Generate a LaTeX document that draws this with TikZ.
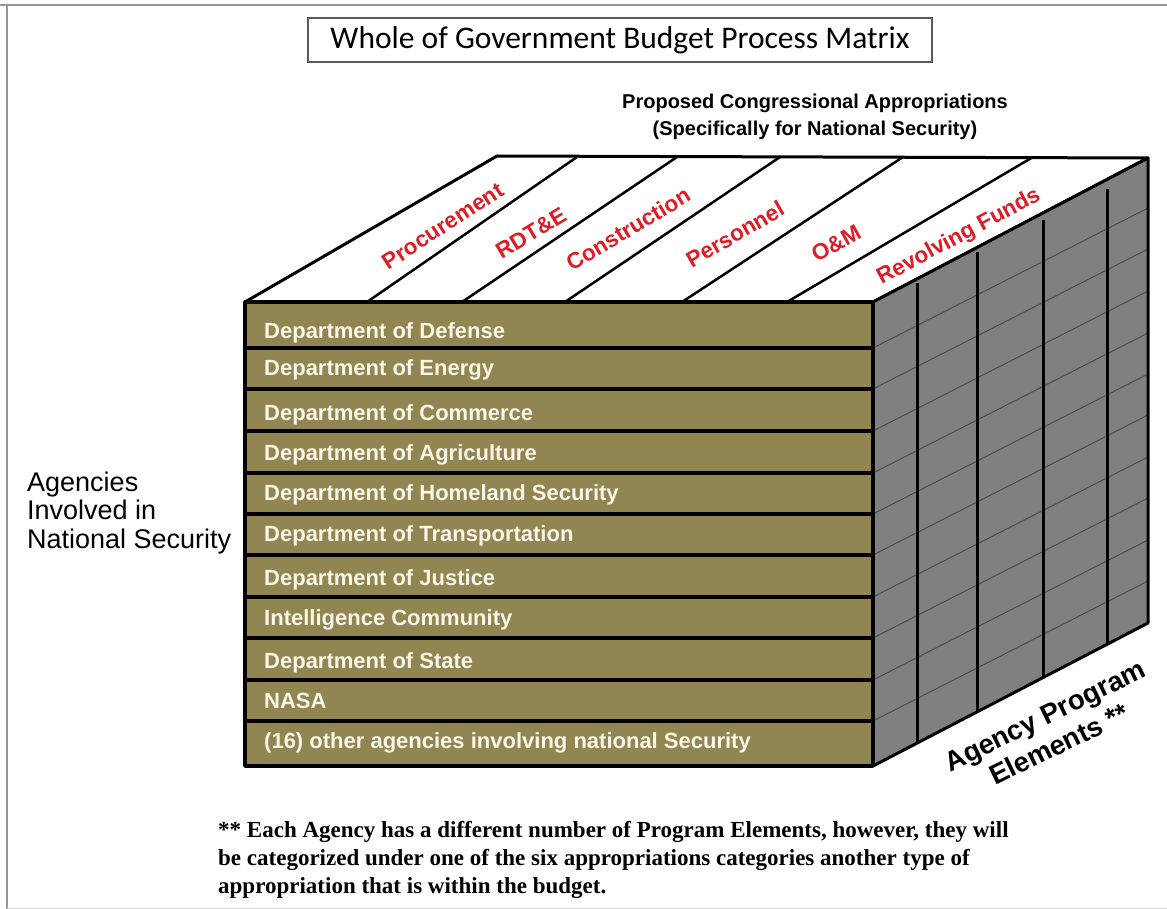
\documentclass[tikz,border=0pt]{standalone}
\usepackage{fontspec}
\setmainfont{Liberation Sans}
\newfontfamily\titlefont{Carlito}
\newfontfamily\notefont{Liberation Serif}
\usetikzlibrary{calc}
\definecolor{olivefront}{RGB}{145,133,82}
\definecolor{sidegray}{RGB}{128,128,128}
\definecolor{labred}{RGB}{222,28,38}
\definecolor{cream}{RGB}{250,246,232}
\definecolor{framegray}{RGB}{150,150,150}
\tikzset{
  cubeedge/.style={line width=3pt, draw=black, line join=round},
  rowdiv/.style={line width=3.5pt, draw=black},
  topdiv/.style={line width=2.5pt, draw=black},
  thinline/.style={line width=1pt, draw=black!70},
  vbar/.style={line width=3pt, draw=black},
  rowtext/.style={anchor=base west, text=cream, inner sep=0pt, font=\bfseries\fontsize{22}{26}\selectfont},
  toplabel/.style={text=labred, inner sep=0pt, font=\bfseries\fontsize{22.5}{25}\selectfont},
  notetext/.style={anchor=base west, inner sep=0pt, font=\notefont\bfseries\fontsize{23}{28}\selectfont},
}
\begin{document}
\begin{tikzpicture}[x=1pt,y=-1pt]
\useasboundingbox (0,0) rectangle (1167,909);
\fill[white] (0,0) rectangle (1167,909);
% frame
\draw[framegray, line width=2.5pt] (0,5) -- (1167,5);
\draw[framegray, line width=2.5pt] (7,5) -- (7,909);
\draw[black!15, line width=1pt] (7,908) -- (1167,908);

% cube corners
\coordinate (FTL) at (245,302);
\coordinate (FTR) at (873,302);
\coordinate (FBL) at (245,766);
\coordinate (FBR) at (873,766);
\coordinate (BTL) at (497,156);
\coordinate (BTR) at (1148,158);
\coordinate (BBR) at (1148,623);

% top face
\filldraw[fill=white, cubeedge] (FTL) -- (BTL) -- (BTR) -- (FTR) -- cycle;
\foreach \a/\b [count=\i] in {367/577, 462/677, 565/780, 682/903, 787/1033}{
  \coordinate (tf\i) at (\a,302);
  \coordinate (tb\i) at (\b,157);
  \draw[topdiv] (tf\i) -- (tb\i);
}

% right face
\fill[sidegray] (FTR) -- (BTR) -- (BBR) -- (FBR) -- cycle;
\foreach \d [count=\i] in {348,389,431,473,514,555,597,638,680,721}{
  \coordinate (rl\i) at (873,\d);
  \coordinate (rr\i) at (1148,\d-140);
  \draw[thinline] (rl\i) -- (rr\i);
}
\foreach \x/\t/\bt [count=\i] in {917/283/743, 977/252/712, 1043/220/678, 1107/189/644}{
  \coordinate (vt\i) at (\x,\t);
  \coordinate (vb\i) at (\x,\bt);
  \draw[vbar] (vt\i) -- (vb\i);
}
\draw[cubeedge] (FTR) -- (BTR) -- (BBR) -- (FBR);

% front face
\filldraw[fill=olivefront, cubeedge, line width=3.5pt] (FTL) rectangle (FBR);
\foreach \d [count=\i] in {348,389,431,473,514,555,597,638,680,721}{
  \coordinate (fl\i) at (245,\d);
  \coordinate (fr\i) at (873,\d);
  \draw[rowdiv] (fl\i) -- (fr\i);
}

% row texts
\foreach \y/\t [count=\i] in {338/{Department of Defense}, 375/{Department of Energy}, 420/{Department of Commerce}, 460/{Department of Agriculture}, 500/{Department of Homeland Security}, 541/{Department of Transportation}, 585/{Department of Justice}, 625/{Intelligence Community}, 668/{Department of State}, 708/{NASA}, 748/{(16) other agencies involving national Security}}{
  \node[rowtext] (row\i) at (264,\y) {\t};
}

% top labels
\node[toplabel, rotate=33] (lproc) at (443,226) {Procurement};
\node[toplabel, rotate=31] (lrdte) at (531,233) {RDT\&E};
\node[toplabel, rotate=31] (lcons) at (628,229) {Construction};
\node[toplabel, rotate=30] (lpers) at (735,234) {Personnel};
\node[toplabel, rotate=29] (lom) at (836,243) {O\&M};
\node[toplabel, rotate=28] (lrev) at (959,237) {Revolving Funds};

% title
\node[draw=black!65, line width=1.5pt, minimum width=624pt, minimum height=44pt, inner sep=0pt,
      font=\titlefont\fontsize{31.5}{36}\selectfont] (title) at (620,40) {Whole of Government Budget Process Matrix};

% appropriations header
\node[align=center, inner sep=0pt, font=\bfseries\fontsize{20}{27}\selectfont] (appr) at (815,117)
  {Proposed Congressional Appropriations\\(Specifically for National Security)};

% left label
\node[align=left, anchor=west, inner sep=0pt, font=\fontsize{27}{28.5}\selectfont] (agencies) at (27,513)
  {Agencies\\Involved in\\National Security};

% program elements
\node[align=center, rotate=26, inner sep=0pt, font=\bfseries\fontsize{27.5}{32}\selectfont] (elements) at (1052,730)
  {Agency Program\\Elements **};

% footnote
\node[notetext] (note1) at (218,837)
  {** Each Agency has a different number of Program Elements, however, they will};
\node[notetext] (note2) at (218,865)
  {be categorized under one of the six appropriations categories another type of};
\node[notetext] (note3) at (218,893)
  {appropriation that is within the budget.};
\end{tikzpicture}
\end{document}
